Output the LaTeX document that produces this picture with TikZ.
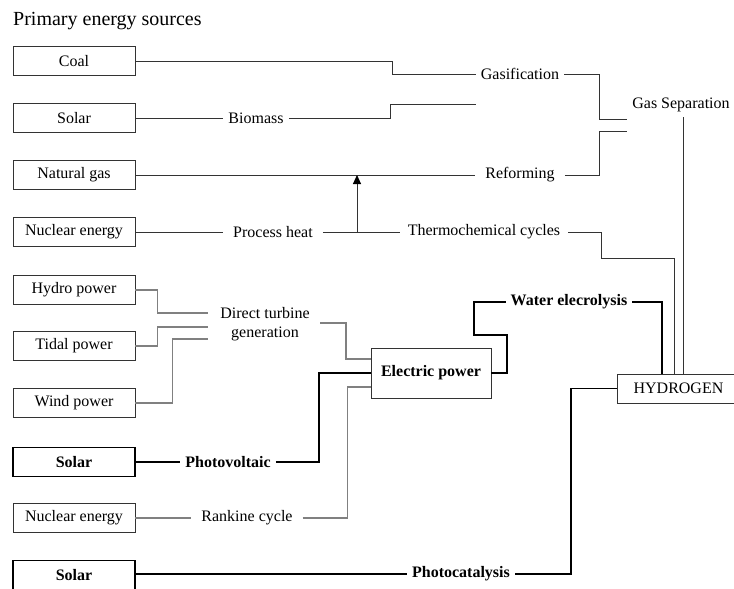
\documentclass[tikz,border=0pt]{standalone}
\usepackage{fontspec}
\setmainfont{Liberation Serif}
\usetikzlibrary{arrows.meta}
\tikzset{
    srcbox/.style={draw=black!80, line width=0.7pt, minimum width=122pt, minimum height=29pt, inner sep=0pt, font=\fontsize{16}{19}\selectfont},
    srcboldbox/.style={srcbox, draw=black, line width=1.8pt, font=\fontsize{16}{19}\selectfont\bfseries},
    proc/.style={inner xsep=5pt, inner ysep=0pt, font=\fontsize{16}{19}\selectfont},
    procbold/.style={proc, font=\fontsize{16}{19}\selectfont\bfseries},
    thinlink/.style={draw=black!80, line width=0.9pt},
    greylink/.style={draw=black!50, line width=1.1pt},
    boldlink/.style={draw=black, line width=1.8pt}
}
\begin{document}
\begin{tikzpicture}[x=1pt, y=-1pt]
            \useasboundingbox (0,0) rectangle (734,589);
            \node[anchor=west, inner sep=0pt, font=\fontsize{20}{24}\selectfont] (title) at (13,21) {Primary energy sources};

            \node[srcbox] (coal) at (74,61) {Coal};
            \node[srcbox] (solar1) at (74,118) {Solar};
            \node[srcbox] (natgas) at (74,175) {Natural gas};
            \node[srcbox] (nuc1) at (74,232) {Nuclear energy};
            \node[srcbox] (hydro) at (74,290) {Hydro power};
            \node[srcbox] (tidal) at (74,346) {Tidal power};
            \node[srcbox] (wind) at (74,403) {Wind power};
            \node[srcboldbox] (solar2) at (74,462) {Solar};
            \node[srcbox] (nuc2) at (74,518) {Nuclear energy};
            \node[srcboldbox] (solar3) at (74,575) {Solar};

            \node[proc] (gasif) at (520,74) {Gasification};
            \node[proc] (biomass) at (256,118) {Biomass};
            \node[proc, inner xsep=10pt] (reform) at (520,175) {Reforming};
            \node[proc, inner xsep=10pt] (heat) at (273,232) {Process heat};
            \node[proc, inner xsep=8pt] (thermo) at (484,232) {Thermochemical cycles};
            \node[proc, inner ysep=5pt] (sep) at (681,105) {Gas Separation};
            \node[proc, inner xsep=0pt, align=center] (turbine) at (265,324) {Direct turbine\\generation};
            \node[procbold] (pv) at (228,462) {Photovoltaic};
            \node[proc, inner xsep=10pt] (rankine) at (247,518) {Rankine cycle};
            \node[procbold] (photocat) at (461,574) {Photocatalysis};
            \node[procbold] (water) at (569,302) {Water elecrolysis};

            \node[draw=black!80, line width=0.7pt, minimum width=120pt, minimum height=50pt, inner sep=0pt, font=\fontsize{16}{19}\selectfont\bfseries] (elec) at (431,373) {Electric power};
            \node[srcbox, minimum width=123pt] (h2) at (678.5,388.5) {HYDROGEN};

            \coordinate (sepA) at (627,119);
            \coordinate (sepB) at (627,131);
            \coordinate (bioend) at (476,104);
            \coordinate (junc) at (357,232);
            \coordinate (tin1) at (208,313);
            \coordinate (tin2) at (208,327);
            \coordinate (tin3) at (208,339);
            \coordinate (tout) at (320,323);
            \coordinate (h2a) at ([xshift=45pt]h2.north west);
            \coordinate (h2b) at ([xshift=58pt]h2.north west);
            \coordinate (h2c) at ([xshift=67pt]h2.north west);

            \draw[thinlink] (coal.east) -- ++(257,0) |- (gasif);
            \draw[thinlink] (gasif.east) -- ++(35,0) |- (sepA);
            \draw[thinlink] (solar1) -- (biomass);
            \draw[thinlink] (biomass.east) -- ++(102,0) |- (bioend);
            \draw[thinlink] (natgas) -- (reform);
            \draw[thinlink] (reform.east) -- ++(35,0) |- (sepB);
            \draw[thinlink] (nuc1) -- (heat);
            \draw[thinlink] (heat) -- (thermo);
            \draw[thinlink, -{Triangle[length=9pt, width=8pt, color=black]}] (junc) -- (junc |- natgas);
            \draw[thinlink] (thermo.east) -- ++(33,0) -- ++(0,26) -| (h2b);
            \draw[thinlink] (h2c |- sep.south) -- (h2c);

            \draw[greylink] (hydro.east) -- ++(22,0) |- (tin1);
            \draw[greylink] (tidal.east) -- ++(22,0) |- (tin2);
            \draw[greylink] (wind.east) -- ++(37,0) |- (tin3);
            \draw[greylink] (tout) -- ++(26,0) |- ([yshift=14pt]elec.west);
            \draw[greylink] (nuc2) -- (rankine);
            \draw[greylink] (rankine.east) -- ++(45,0) |- ([yshift=-14pt]elec.west);

            \draw[boldlink] (solar2) -- (pv);
            \draw[boldlink] (pv.east) -- ++(43,0) |- (elec.west);
            \draw[boldlink] (elec.east) -- ++(16,0) -- ++(0,-38) -- ++(-33,0) |- (water);
            \draw[boldlink] (water.east) -| (h2a);
            \draw[boldlink] (solar3.east |- photocat) -- (photocat);
            \draw[boldlink] (photocat.east) -- ++(56,0) |- (h2.west);
        \end{tikzpicture}
\end{document}
